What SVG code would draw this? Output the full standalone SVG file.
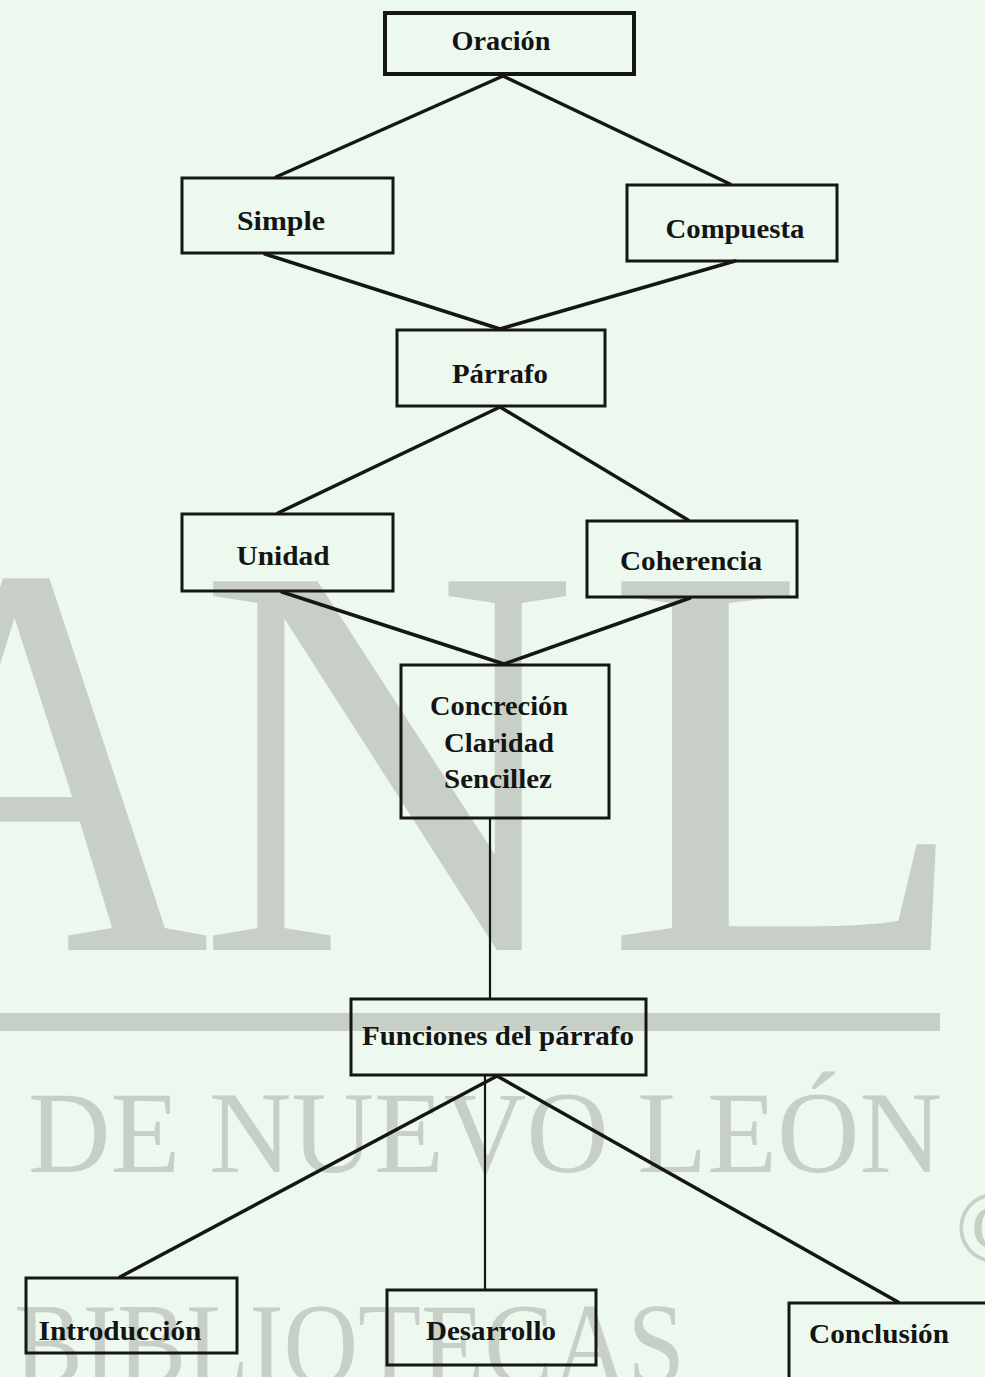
<svg xmlns="http://www.w3.org/2000/svg" width="985" height="1377" viewBox="0 0 985 1377">
<style>
.bg{fill:#edf9ef}
.wm{fill:#c7cfc7;font-family:"Liberation Serif",serif}
.big{font-size:563px}
.mid{font-size:116px}
.box{fill:none;stroke:#161616;stroke-width:3}
.lbl{font-family:"Liberation Serif",serif;font-weight:bold;font-size:28px;fill:#141414;text-anchor:middle}
.con line{stroke:#161616;stroke-width:3.5;stroke-linecap:round}
.con line.v{stroke-width:2.2}
</style>
<rect class="bg" x="0" y="0" width="985" height="1377"/>
<g id="watermark">
<text class="wm big" x="-150" y="950" textLength="360" lengthAdjust="spacingAndGlyphs">A</text>
<text class="wm big" x="198" y="950" textLength="380" lengthAdjust="spacingAndGlyphs">N</text>
<text class="wm big" x="604" y="950" textLength="368" lengthAdjust="spacingAndGlyphs">L</text>
<rect x="0" y="1013" width="940" height="18" fill="#c7cfc7"/>
<text class="wm mid" x="28" y="1172" textLength="914" lengthAdjust="spacingAndGlyphs">DE NUEVO LEÓN</text>
<text class="wm mid" x="14" y="1384" textLength="671" lengthAdjust="spacingAndGlyphs">BIBLIOTECAS</text>
<text class="wm" x="955" y="1262" font-size="104">©</text>
</g>
<g id="connectors" class="con">
<line x1="503" y1="76" x2="276" y2="177"/>
<line x1="503" y1="76" x2="730" y2="184"/>
<line x1="265" y1="254" x2="500" y2="329"/>
<line x1="735" y1="261" x2="500" y2="329"/>
<line x1="500" y1="407" x2="278" y2="513"/>
<line x1="500" y1="407" x2="688" y2="520"/>
<line x1="282" y1="592" x2="504" y2="664"/>
<line x1="690" y1="598" x2="504" y2="664"/>
<line class="v" x1="490" y1="818" x2="490" y2="998"/>
<line x1="497" y1="1076" x2="120" y2="1277"/>
<line class="v" x1="485" y1="1076" x2="485" y2="1289"/>
<line x1="497" y1="1076" x2="898" y2="1302"/>
</g>
<g id="n-oracion"><rect class="box" x="385" y="13" width="249" height="61" style="stroke-width:4"/><text class="lbl" x="501" y="50" textLength="99" lengthAdjust="spacingAndGlyphs">Oración</text></g>
<g id="n-simple"><rect class="box" x="182" y="178" width="211" height="75"/><text class="lbl" x="281" y="230" textLength="88" lengthAdjust="spacingAndGlyphs">Simple</text></g>
<g id="n-compuesta"><rect class="box" x="627" y="185" width="210" height="76"/><text class="lbl" x="735" y="238" textLength="139" lengthAdjust="spacingAndGlyphs">Compuesta</text></g>
<g id="n-parrafo"><rect class="box" x="397" y="330" width="208" height="76"/><text class="lbl" x="500" y="383" textLength="96" lengthAdjust="spacingAndGlyphs">Párrafo</text></g>
<g id="n-unidad"><rect class="box" x="182" y="514" width="211" height="77"/><text class="lbl" x="283" y="565" textLength="93" lengthAdjust="spacingAndGlyphs">Unidad</text></g>
<g id="n-coherencia"><rect class="box" x="587" y="521" width="210" height="76"/><text class="lbl" x="691" y="570" textLength="142" lengthAdjust="spacingAndGlyphs">Coherencia</text></g>
<g id="n-concrecion"><rect class="box" x="401" y="665" width="208" height="153"/>
<text class="lbl" x="499" y="715" textLength="138" lengthAdjust="spacingAndGlyphs">Concreción</text>
<text class="lbl" x="499" y="752" textLength="110" lengthAdjust="spacingAndGlyphs">Claridad</text>
<text class="lbl" x="498" y="788" textLength="108" lengthAdjust="spacingAndGlyphs">Sencillez</text></g>
<g id="n-funciones"><rect class="box" x="351" y="999" width="295" height="76"/><text class="lbl" x="498" y="1045" textLength="272" lengthAdjust="spacingAndGlyphs">Funciones del párrafo</text></g>
<g id="n-introduccion"><rect class="box" x="26" y="1278" width="211" height="75"/><text class="lbl" x="120" y="1340" textLength="163" lengthAdjust="spacingAndGlyphs">Introducción</text></g>
<g id="n-desarrollo"><rect class="box" x="387" y="1290" width="209" height="75"/><text class="lbl" x="491" y="1340" textLength="130" lengthAdjust="spacingAndGlyphs">Desarrollo</text></g>
<g id="n-conclusion"><rect class="box" x="789" y="1303" width="210" height="90"/><text class="lbl" x="879" y="1343" textLength="140" lengthAdjust="spacingAndGlyphs">Conclusión</text></g>
</svg>
